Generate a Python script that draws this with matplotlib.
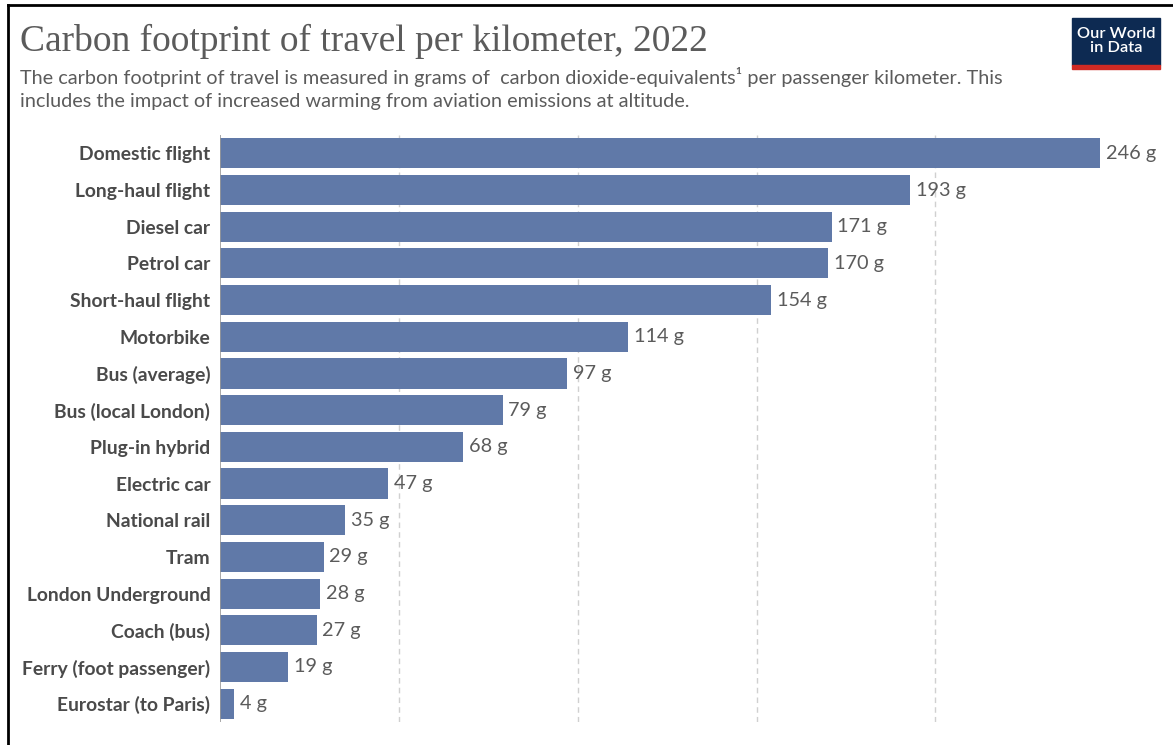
import matplotlib.pyplot as plt
from matplotlib.patches import Rectangle
from matplotlib.lines import Line2D

# data (grams CO2e per passenger km)
modes = ["Domestic flight", "Long-haul flight", "Diesel car", "Petrol car",
         "Short-haul flight", "Motorbike", "Bus (average)", "Bus (local London)",
         "Plug-in hybrid", "Electric car", "National rail", "Tram",
         "London Underground", "Coach (bus)", "Ferry (foot passenger)",
         "Eurostar (to Paris)"]
grams = [246, 193, 171, 170, 154, 114, 97, 79, 68, 47, 35, 29, 28, 27, 19, 4]
grid_ticks = [50, 100, 150, 200]

W, H = 1173, 745
bar_color = "#6079a8"

fig = plt.figure(figsize=(W / 100, H / 100), dpi=100)

# axes: x=0 at px 220, x=246 at px 1100; top px 135, bottom px 722
ax = fig.add_axes([220 / W, 1 - 722 / H, 880 / W, (722 - 135) / H])
ypos = list(range(len(modes)))
ax.barh(ypos, grams, height=0.82, color=bar_color, zorder=2)
ax.set_xlim(0, 246)
ax.set_ylim(len(modes) - 0.5, -0.5)

for g in grid_ticks:
    ax.axvline(g, color="#d0d0d0", lw=1, ls=(0, (4, 3)), zorder=1)
ax.axvline(0, color="#999999", lw=1.2, zorder=3)

for y, v in zip(ypos, grams):
    ax.text(v + 1.6, y, f"{v} g", va="center", ha="left", fontsize=14.3,
            family="Lato", color="#5b5b5b", clip_on=False)

ax.set_yticks(ypos)
ax.set_yticklabels(modes, fontsize=13.9, family="Lato", fontweight="bold", color="#4a4a4a")
ax.tick_params(axis="y", length=0, pad=7)
ax.set_xticks([])
for s in ax.spines.values():
    s.set_visible(False)

# title and subtitle
fig.text(20 / W, 1 - 41 / H, "Carbon footprint of travel per kilometer, 2022",
         fontsize=27, family="Liberation Serif", color="#5b5b5b", va="center", ha="left")
fig.text(20 / W, 1 - 77 / H,
         "The carbon footprint of travel is measured in grams of  carbon dioxide-equivalents\u00b9 per passenger kilometer. This",
         fontsize=14.3, family="Lato", color="#5b5b5b", va="center", ha="left")
fig.text(20 / W, 1 - 102 / H,
         "includes the impact of increased warming from aviation emissions at altitude.",
         fontsize=14.3, family="Lato", color="#5b5b5b", va="center", ha="left")

# logo
fig.patches.append(Rectangle((1072 / W, 1 - 65 / H), 88 / W, 47 / H,
                             transform=fig.transFigure, color="#0d2a52"))
fig.patches.append(Rectangle((1072 / W, 1 - 69 / H), 88 / W, 4 / H,
                             transform=fig.transFigure, color="#d02a24"))
fig.text(1116 / W, 1 - 41 / H, "Our World\nin Data", fontsize=11.8, family="Lato",
         fontweight="semibold", color="white", ha="center", va="center", linespacing=0.95)

# screenshot frame (top and left only)
fig.lines.append(Line2D([8 / W, 1], [1 - 5 / H, 1 - 5 / H], transform=fig.transFigure,
                        color="black", lw=2))
fig.lines.append(Line2D([8 / W, 8 / W], [0, 1 - 5 / H], transform=fig.transFigure,
                        color="black", lw=2))

fig.savefig("out.png", dpi=100)
